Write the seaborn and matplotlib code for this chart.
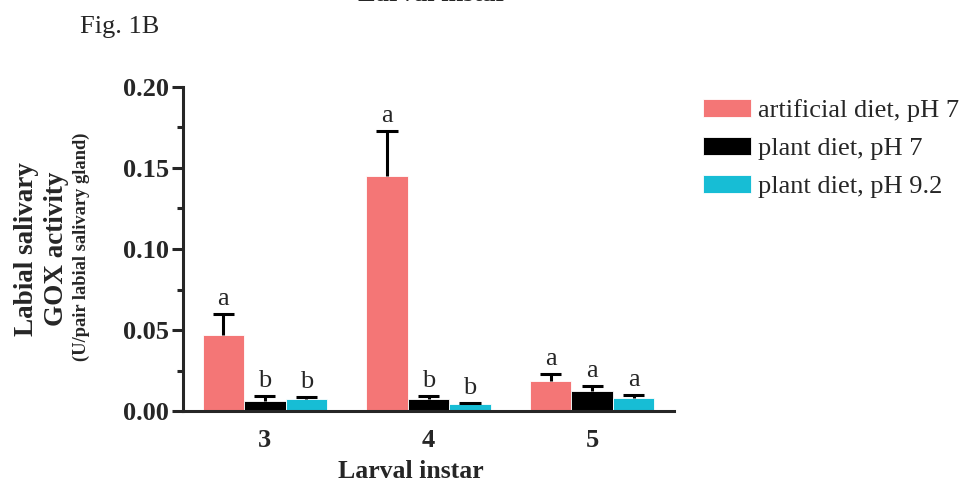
import numpy as np
import pandas as pd
import matplotlib
matplotlib.use("Agg")
import matplotlib.pyplot as plt
import seaborn as sns
from matplotlib.ticker import MultipleLocator

# === DATA
INSTARS = ["3", "4", "5"]
DIETS = ["artificial diet, pH 7", "plant diet, pH 7", "plant diet, pH 9.2"]
MEANS = {
    "artificial diet, pH 7": [0.0467, 0.1450, 0.0183],
    "plant diet, pH 7": [0.0064, 0.0072, 0.0125],
    "plant diet, pH 9.2": [0.0072, 0.0043, 0.0080],
}
SEM = {
    "artificial diet, pH 7": [0.0132, 0.0278, 0.0045],
    "plant diet, pH 7": [0.0029, 0.0021, 0.0031],
    "plant diet, pH 9.2": [0.0013, 0.0004, 0.0019],
}
LETTERS = {
    "artificial diet, pH 7": ["a", "a", "a"],
    "plant diet, pH 7": ["b", "b", "a"],
    "plant diet, pH 9.2": ["b", "b", "a"],
}
COLORS = ["#F47676", "#000000", "#17BDD5"]

rows = []
for d in DIETS:
    for i, inst in enumerate(INSTARS):
        rows.append({"instar": inst, "diet": d, "value": MEANS[d][i]})
df = pd.DataFrame(rows)

# === STYLE
sns.set_style("ticks")
plt.rcParams["font.family"] = ["Liberation Serif", "DejaVu Serif"]
plt.rcParams["axes.linewidth"] = 2.2

fig = plt.figure(figsize=(9.64, 4.82), dpi=100)
ax = fig.add_axes([183 / 964, 1 - 411 / 482, (674 - 183) / 964, (411 - 87) / 482])

sns.barplot(data=df, x="instar", y="value", hue="diet", order=INSTARS,
            hue_order=DIETS, palette=COLORS, saturation=1, errorbar=None,
            width=0.76, edgecolor="white", linewidth=0.6, ax=ax, zorder=2)

# === ERROR BARS (upper only) + LETTERS
CAP = 0.065
for cont, d in zip(ax.containers, DIETS):
    for i, bar in enumerate(cont):
        x = bar.get_x() + bar.get_width() / 2
        y = bar.get_height()
        top = y + SEM[d][i]
        ax.vlines(x, y, top, color="black", linewidth=2.2, zorder=3)
        ax.hlines(top, x - CAP, x + CAP, color="black", linewidth=2.2, zorder=3)
        ax.annotate(LETTERS[d][i], (x, top), xytext=(0, 6.5),
                    textcoords="offset points", ha="center", va="baseline",
                    fontsize=19)

ax.set_ylim(0, 0.20)
ax.set_xlim(-0.5, 2.5)
ax.yaxis.set_major_locator(MultipleLocator(0.05))
ax.yaxis.set_minor_locator(MultipleLocator(0.025))
ax.set_yticks([0, 0.05, 0.10, 0.15, 0.20])
ax.set_yticklabels(["0.00", "0.05", "0.10", "0.15", "0.20"])
ax.tick_params(axis="y", which="major", length=8, width=2.2, pad=2, labelsize=19)
ax.tick_params(axis="y", which="minor", length=4, width=2.2)
ax.tick_params(axis="x", length=0, pad=13, labelsize=19)
for lab in ax.get_yticklabels() + ax.get_xticklabels():
    lab.set_fontweight("bold")
sns.despine(ax=ax)

ax.set_xlabel("")
ax.set_ylabel("")
fig.text(411 / 964, 1 - 478 / 482, "Larval instar", fontsize=18.5,
         fontweight="bold", ha="center", va="baseline")

# y label in three lines (baseline anchored, rotated)
fig.text(33 / 964, 1 - 249 / 482, "Labial salivary", rotation=90,
         rotation_mode="anchor", ha="center", va="baseline",
         fontsize=19.5, fontweight="bold")
fig.text(63 / 964, 1 - 249 / 482, "GOX activity", rotation=90,
         rotation_mode="anchor", ha="center", va="baseline",
         fontsize=19.5, fontweight="bold")
fig.text(86 / 964, 1 - 247 / 482, "(U/pair labial salivary gland)", rotation=90,
         rotation_mode="anchor", ha="center", va="baseline",
         fontsize=13.3, fontweight="bold")

# === LEGEND
handles, labels = ax.get_legend_handles_labels()
ax.legend(handles, labels, loc="upper left", bbox_to_anchor=(703 / 964, 1 - 99 / 482),
          bbox_transform=fig.transFigure, frameon=False, fontsize=19,
          handlelength=1.8, handleheight=0.65, handletextpad=0.3,
          labelspacing=0.57, borderpad=0, borderaxespad=0)

# === TEXTS
fig.text(80 / 964, 1 - 33 / 482, "Fig. 1B", fontsize=19, va="baseline")
fig.text(433 / 964, 1 - 1 / 482, "Larval instar", fontsize=19, fontweight="bold",
         ha="center", va="baseline")

fig.savefig("out.png", dpi=100)
